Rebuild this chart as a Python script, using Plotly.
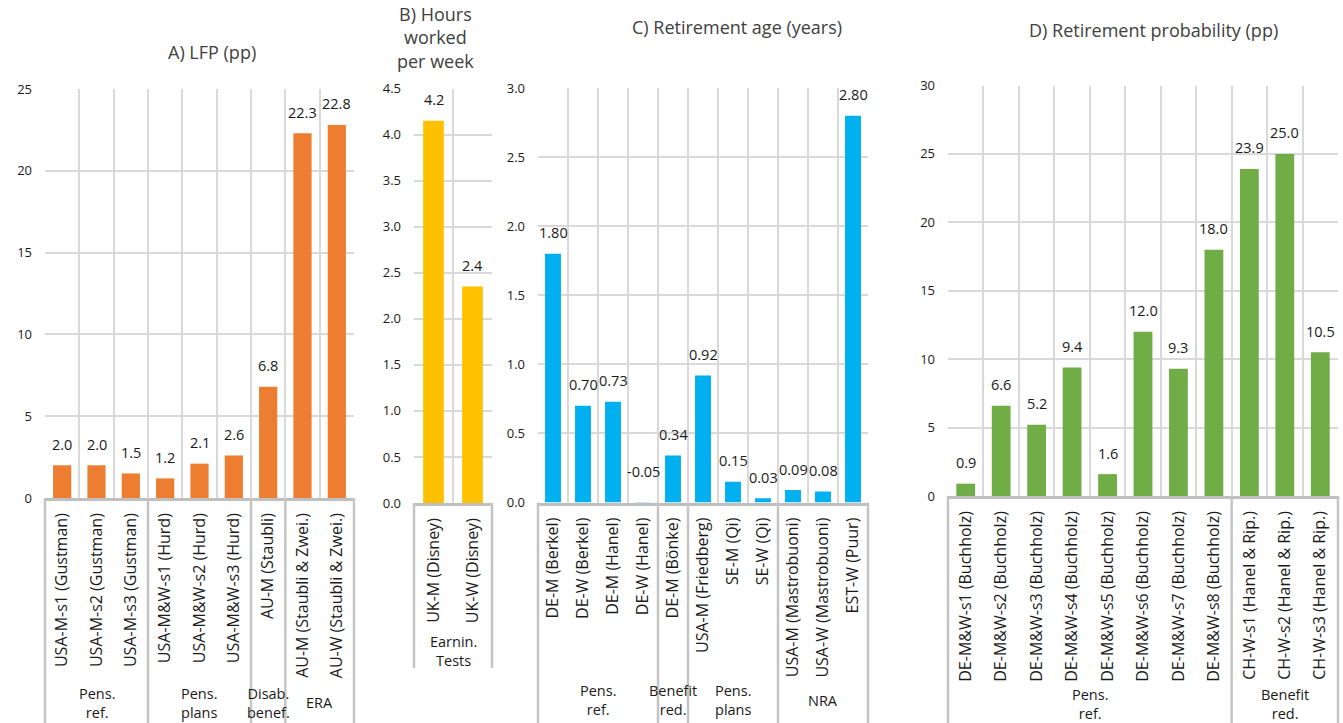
import plotly.graph_objects as go

W, H = 1343, 723

# ---------------- data ----------------
a_title = "A) LFP (pp)"
a_cats = ["USA-M-s1 (Gustman)", "USA-M-s2 (Gustman)", "USA-M-s3 (Gustman)",
          "USA-M&W-s1 (Hurd)", "USA-M&W-s2 (Hurd)", "USA-M&W-s3 (Hurd)",
          "AU-M (Staubli)", "AU-M (Staubli & Zwei.)", "AU-W (Staubli & Zwei.)"]
a_vals = [2.0, 2.0, 1.5, 1.2, 2.1, 2.6, 6.8, 22.3, 22.8]
a_groups = ["Pens.<br>ref.", "Pens.<br>plans", "Disab.<br>benef.", "ERA"]
a_group_sizes = [3, 3, 1, 2]
a_yticks = [0, 5, 10, 15, 20, 25]

b_title = "B) Hours<br>worked<br>per week"
b_cats = ["UK-M (Disney)", "UK-W (Disney)"]
b_vals = [4.15, 2.35]
b_groups = ["Earnin.<br>Tests"]
b_group_sizes = [2]
b_yticks = [0.0, 0.5, 1.0, 1.5, 2.0, 2.5, 3.0, 3.5, 4.0, 4.5]

c_title = "C) Retirement age (years)"
c_cats = ["DE-M (Berkel)", "DE-W (Berkel)", "DE-M (Hanel)", "DE-W (Hanel)",
          "DE-M (Bönke)", "USA-M (Friedberg)", "SE-M (Qi)", "SE-W (Qi)",
          "USA-M (Mastrobuoni)", "USA-W (Mastrobuoni)", "EST-W (Puur)"]
c_vals = [1.80, 0.70, 0.73, -0.05, 0.34, 0.92, 0.15, 0.03, 0.09, 0.08, 2.80]
c_groups = ["Pens.<br>ref.", "Benefit<br>red.", "Pens.<br>plans", "NRA"]
c_group_sizes = [4, 1, 3, 3]
c_yticks = [0.0, 0.5, 1.0, 1.5, 2.0, 2.5, 3.0]

d_title = "D) Retirement probability (pp)"
d_cats = ["DE-M&W-s1 (Buchholz)", "DE-M&W-s2 (Buchholz)", "DE-M&W-s3 (Buchholz)",
          "DE-M&W-s4 (Buchholz)", "DE-M&W-s5 (Buchholz)", "DE-M&W-s6 (Buchholz)",
          "DE-M&W-s7 (Buchholz)", "DE-M&W-s8 (Buchholz)",
          "CH-W-s1 (Hanel & Rip.)", "CH-W-s2 (Hanel & Rip.)", "CH-W-s3 (Hanel & Rip.)"]
d_vals = [0.9, 6.6, 5.2, 9.4, 1.6, 12.0, 9.3, 18.0, 23.9, 25.0, 10.5]
d_groups = ["Pens.<br>ref.", "Benefit<br>red."]
d_group_sizes = [8, 3]
d_yticks = [0, 5, 10, 15, 20, 25, 30]

# ---------------- layout helpers (pixel boxes) ----------------
def px_x(p):
    return p / W

def px_y(p):
    return (H - p) / H

FONT = "Open Sans"
TXT = "#1a1a1a"
TITLE = "#404040"
GRID = "#d9d9d9"
LINE = "#c4c4c4"

panels = [
    dict(title=a_title, cats=a_cats, vals=a_vals, groups=a_groups, sizes=a_group_sizes,
         yticks=a_yticks, fmt="{:.1f}", tfmt=".0f", color="#ED7D31",
         box=(45, 354, 498, 89), title_xy=(212, 52), line_bottom=723, group_y=702.5),
    dict(title=b_title, cats=b_cats, vals=b_vals, groups=b_groups, sizes=b_group_sizes,
         yticks=b_yticks, fmt="{:.1f}", tfmt=".1f", color="#FFC000",
         box=(414, 492, 503, 88.5), title_xy=(435, 37), line_bottom=668, group_y=650.5),
    dict(title=c_title, cats=c_cats, vals=c_vals, groups=c_groups, sizes=c_group_sizes,
         yticks=c_yticks, fmt="{:.2f}", tfmt=".1f", color="#00B0F0",
         box=(538, 868, 502.5, 88), title_xy=(737, 27), line_bottom=723, group_y=700),
    dict(title=d_title, cats=d_cats, vals=d_vals, groups=d_groups, sizes=d_group_sizes,
         yticks=d_yticks, fmt="{:.1f}", tfmt=".0f", color="#70AD47",
         box=(948, 1338, 496, 85.5), title_xy=(1153, 30), line_bottom=723, group_y=703.5),
]

fig = go.Figure()
annotations = []
shapes = []

for k, p in enumerate(panels, start=1):
    xa = "x" if k == 1 else f"x{k}"
    ya = "y" if k == 1 else f"y{k}"
    xkey = "xaxis" if k == 1 else f"xaxis{k}"
    ykey = "yaxis" if k == 1 else f"yaxis{k}"
    n = len(p["cats"])
    idx = list(range(n))
    x0, x1, yb, yt = p["box"]

    fig.add_trace(go.Bar(x=idx, y=p["vals"], width=0.53, marker=dict(color=p["color"], line=dict(width=0)),
                         xaxis=xa, yaxis=ya, showlegend=False, hoverinfo="skip"))

    fig.layout[xkey] = dict(
        domain=[px_x(x0), px_x(x1)], anchor=ya, range=[-0.5, n - 0.5],
        tickmode="array", tickvals=idx, ticktext=p["cats"], tickangle=-90,
        ticks="", showgrid=False, zeroline=False,
        showline=True, linecolor="#bfbfbf", linewidth=2.5,
        minor=dict(tickmode="array", tickvals=[i - 0.5 for i in range(n + 1)],
                   showgrid=True, gridcolor=GRID, gridwidth=1.5, ticks=""),
        tickfont=dict(family=FONT, size=16, color=TXT),
        ticklabelstandoff=6, fixedrange=True, automargin=False,
    )
    fig.layout[ykey] = dict(
        domain=[px_y(yb), px_y(yt)], anchor=xa,
        range=[p["yticks"][0], p["yticks"][-1]],
        tickmode="array", tickvals=p["yticks"], tickformat=p["tfmt"],
        showgrid=True, gridcolor=GRID, gridwidth=1.5, zeroline=False, showline=False,
        ticks="", tickfont=dict(family=FONT, size=13, color=TXT),
        ticklabelstandoff=12, fixedrange=True, automargin=False,
    )

    # value labels
    for i, v in enumerate(p["vals"]):
        annotations.append(dict(
            x=i, y=max(v, 0), xref=xa, yref=ya, text=p["fmt"].format(v),
            showarrow=False, yanchor="middle", yshift=21 if v >= 0 else 31,
            font=dict(family=FONT, size=14.5, color=TXT)))

    # title
    tx, ty = p["title_xy"]
    annotations.append(dict(x=px_x(tx), y=px_y(ty), xref="paper", yref="paper",
                            text=p["title"], showarrow=False, xanchor="center", yanchor="middle",
                            font=dict(family=FONT, size=18, color=TITLE)))

    # group separators and labels
    bounds = [0]
    for s in p["sizes"]:
        bounds.append(bounds[-1] + s)
    for b in bounds:
        shapes.append(dict(type="line", xref=f"{xa} domain", yref="paper",
                           x0=b / n, x1=b / n, y0=px_y(p["line_bottom"]), y1=px_y(yb),
                           line=dict(color=LINE, width=2.5), layer="above"))
    for g, s, start in zip(p["groups"], p["sizes"], bounds[:-1]):
        annotations.append(dict(x=(start + s / 2) / n, y=px_y(p["group_y"]),
                                xref=f"{xa} domain", yref="paper", text=g, showarrow=False,
                                xanchor="center", yanchor="middle", align="center",
                                font=dict(family=FONT, size=14.5, color=TXT)))

fig.update_layout(
    width=W, height=H, margin=dict(l=0, r=0, t=0, b=0),
    paper_bgcolor="white", plot_bgcolor="white",
    annotations=annotations, shapes=shapes, bargap=0.47,
    font=dict(family=FONT, color=TXT),
)

fig.write_html("out.html", config={"displayModeBar": False})
